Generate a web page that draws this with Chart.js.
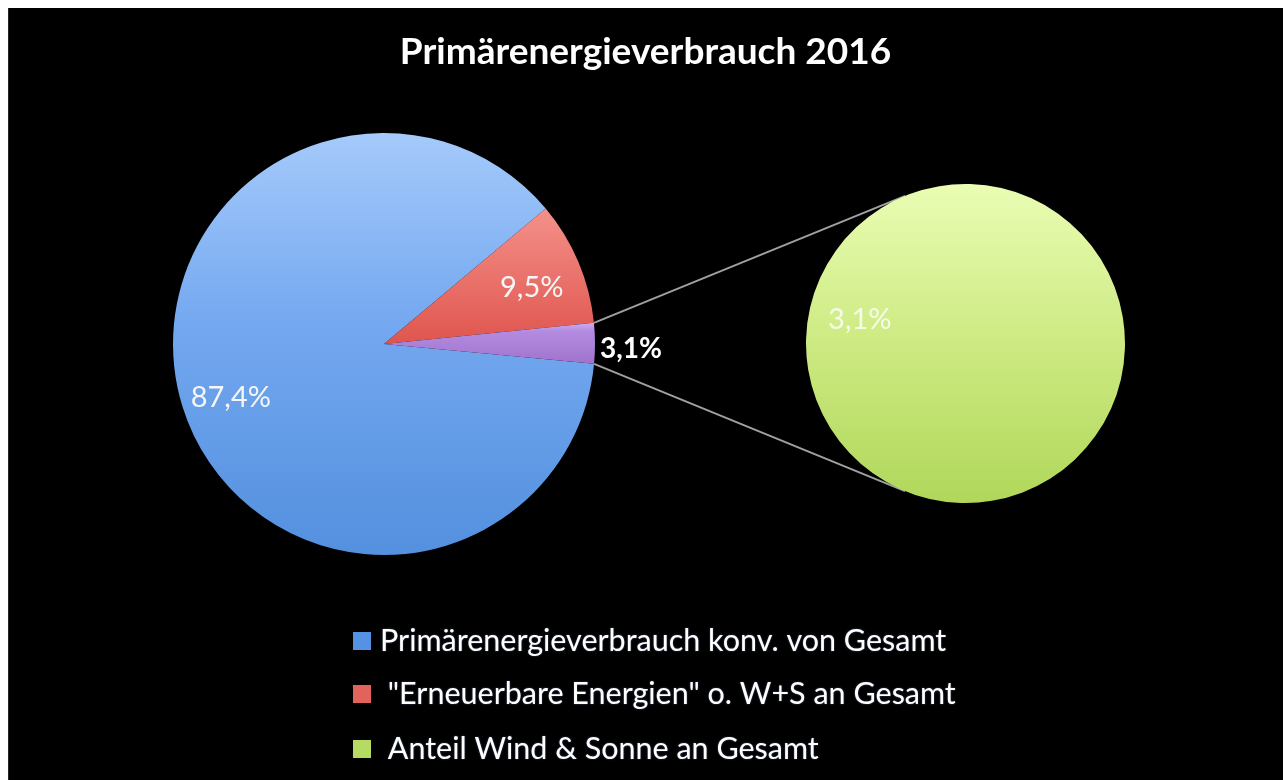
<!DOCTYPE html>
<html>
<head>
<meta charset="utf-8">
<script src="https://cdn.jsdelivr.net/npm/chart.js@4.4.1/dist/chart.umd.min.js"></script>
<style>
  html, body { margin: 0; padding: 0; background: #ffffff; width: 1283px; height: 780px; overflow: hidden; }
  #frame { position: absolute; left: 8px; top: 8px; width: 1275px; height: 772px; background: #000; border-left: 1px solid #262626; box-sizing: border-box; }
  #mainWrap { position: absolute; left: 8px; top: 8px; width: 1275px; height: 772px; }
  #subWrap { position: absolute; left: 800px; top: 178px; width: 331px; height: 331px; }
  canvas { display: block; }
</style>
</head>
<body>
<div id="frame"></div>
<div id="mainWrap"><canvas id="mainChart" width="1275" height="772"></canvas></div>
<div id="subWrap"><canvas id="subChart" width="331" height="331"></canvas></div>
<script>
// ---- data ----
const chartTitle = 'Primärenergieverbrauch 2016';
const mainLabels = ['Primärenergieverbrauch konv. von Gesamt', '"Erneuerbare Energien" o. W+S an Gesamt', 'Anteil Wind & Sonne an Gesamt'];
const mainValues = [87.4, 9.5, 3.1];
const subLabels = ['Anteil Wind & Sonne an Gesamt'];
const subValues = [3.1];
const legendLabels = ['Primärenergieverbrauch konv. von Gesamt', ' "Erneuerbare Energien" o. W+S an Gesamt', ' Anteil Wind & Sonne an Gesamt'];
const legendColors = ['#5592e4', '#e2625c', '#b5db62'];

const FONT = 'Lato, "Open Sans", sans-serif';
const fmt = v => v.toFixed(1).replace('.', ',') + '%';

function vGrad(chart, stops, fallback) {
  const a = chart.chartArea;
  if (!a) return fallback;
  const g = chart.ctx.createLinearGradient(0, a.top, 0, a.bottom);
  stops.forEach(s => g.addColorStop(s[0], s[1]));
  return g;
}

const mainStops = [
  [[0, '#a5cafb'], [0.45, '#74a8f0'], [1, '#5390de']],
  [[0, '#f8a39b'], [0.18, '#f4918a'], [0.55, '#dc4c45'], [1, '#c83c36']],
  [[0, '#e6d2f7'], [0.44, '#d7bdf0'], [0.47, '#b48be0'], [0.55, '#9f72cc'], [1, '#8c5fba']]
];
const mainFallback = ['#79abf1', '#e8645d', '#ad84da'];

// ---- secondary pie (Wind & Sonne) ----
const subDecor = {
  id: 'subDecor',
  afterDatasetsDraw(chart) {
    const ctx = chart.ctx;
    const arc = chart.getDatasetMeta(0).data[0];
    const mid = (arc.startAngle + arc.endAngle) / 2;
    const r = arc.outerRadius * 0.68;
    ctx.save();
    ctx.font = '29px ' + FONT;
    ctx.fillStyle = '#f7fbe8';
    ctx.textAlign = 'center';
    ctx.textBaseline = 'middle';
    ctx.fillText(fmt(subValues[0]), arc.x + r * Math.cos(mid), arc.y + r * Math.sin(mid) + 1);
    ctx.restore();
  }
};

const subChart = new Chart(document.getElementById('subChart'), {
  type: 'pie',
  data: {
    labels: subLabels,
    datasets: [{
      data: subValues,
      backgroundColor: c => vGrad(c.chart, [[0, '#eafdb4'], [0.5, '#cdea82'], [1, '#b0d75a']], '#cdea82'),
      borderWidth: 0
    }]
  },
  options: {
    responsive: false,
    animation: false,
    events: [],
    rotation: 103,
    layout: { padding: 6 },
    plugins: { legend: { display: false }, tooltip: { enabled: false }, title: { display: false } }
  },
  plugins: [subDecor]
});

// ---- main pie ----
const mainDecor = {
  id: 'mainDecor',
  afterDatasetsDraw(chart) {
    const ctx = chart.ctx;
    const arcs = chart.getDatasetMeta(0).data;

    // connector lines from the small slice to the secondary pie
    const p = arcs[2];
    const mr = chart.canvas.getBoundingClientRect();
    const sr = subChart.canvas.getBoundingClientRect();
    const sArc = subChart.getDatasetMeta(0).data[0];
    const cx = sArc.x + sr.left - mr.left, cy = sArc.y + sr.top - mr.top, cr = sArc.outerRadius;
    const P1 = { x: p.x + p.outerRadius * Math.cos(p.startAngle), y: p.y + p.outerRadius * Math.sin(p.startAngle) };
    const P2 = { x: p.x + p.outerRadius * Math.cos(p.endAngle), y: p.y + p.outerRadius * Math.sin(p.endAngle) };
    function tangent(P, sign) {
      const dx = P.x - cx, dy = P.y - cy;
      const d = Math.hypot(dx, dy);
      const th = Math.atan2(dy, dx);
      const a = Math.acos(cr / d);
      const t = th + sign * a;
      return { x: cx + cr * Math.cos(t), y: cy + cr * Math.sin(t) };
    }
    const T1 = tangent(P1, 1), T2 = tangent(P2, -1);
    ctx.save();
    ctx.strokeStyle = '#a0a0a0';
    ctx.lineWidth = 2;
    ctx.beginPath();
    ctx.moveTo(P1.x, P1.y); ctx.lineTo(T1.x, T1.y);
    ctx.moveTo(P2.x, P2.y); ctx.lineTo(T2.x, T2.y);
    ctx.stroke();
    ctx.restore();

    // value labels
    ctx.save();
    ctx.textAlign = 'center';
    ctx.textBaseline = 'middle';
    arcs.forEach((arc, i) => {
      const mid = (arc.startAngle + arc.endAngle) / 2;
      let r;
      if (i < 2) {
        r = arc.outerRadius * 0.76;
        ctx.font = '29px ' + FONT;
        ctx.fillStyle = '#f6f6f6';
      } else {
        r = arc.outerRadius + 36;
        ctx.font = 'bold 28px ' + FONT;
        ctx.fillStyle = '#ffffff';
      }
      ctx.fillText(fmt(mainValues[i]), arc.x + r * Math.cos(mid), arc.y + r * Math.sin(mid) + 6);
    });
    ctx.restore();

    // title
    ctx.save();
    ctx.font = 'bold 37px ' + FONT;
    ctx.fillStyle = '#ffffff';
    ctx.textAlign = 'center';
    ctx.textBaseline = 'alphabetic';
    ctx.fillText(chartTitle, chart.width / 2, 56);
    ctx.restore();

    // legend
    ctx.save();
    ctx.font = '30.5px ' + FONT;
    ctx.textBaseline = 'middle';
    ctx.textAlign = 'left';
    const rowY = [633, 686, 741];
    legendLabels.forEach((t, i) => {
      ctx.fillStyle = legendColors[i];
      ctx.fillRect(345, rowY[i] - 9, 18, 18);
      ctx.fillStyle = '#ffffff';
      ctx.shadowColor = 'rgba(150,180,255,0.45)';
      ctx.shadowBlur = 2;
      ctx.fillText(t, 372, rowY[i]);
      ctx.shadowBlur = 0;
      ctx.shadowColor = 'transparent';
    });
    ctx.restore();
  }
};

new Chart(document.getElementById('mainChart'), {
  type: 'pie',
  data: {
    labels: mainLabels,
    datasets: [{
      data: mainValues,
      backgroundColor: c => vGrad(c.chart, mainStops[c.dataIndex], mainFallback[c.dataIndex]),
      borderWidth: 0
    }]
  },
  options: {
    responsive: false,
    animation: false,
    events: [],
    rotation: 95.4,
    layout: { padding: { left: 165, right: 688, top: 125, bottom: 225 } },
    plugins: { legend: { display: false }, tooltip: { enabled: false }, title: { display: false } }
  },
  plugins: [mainDecor]
});
</script>
</body>
</html>
